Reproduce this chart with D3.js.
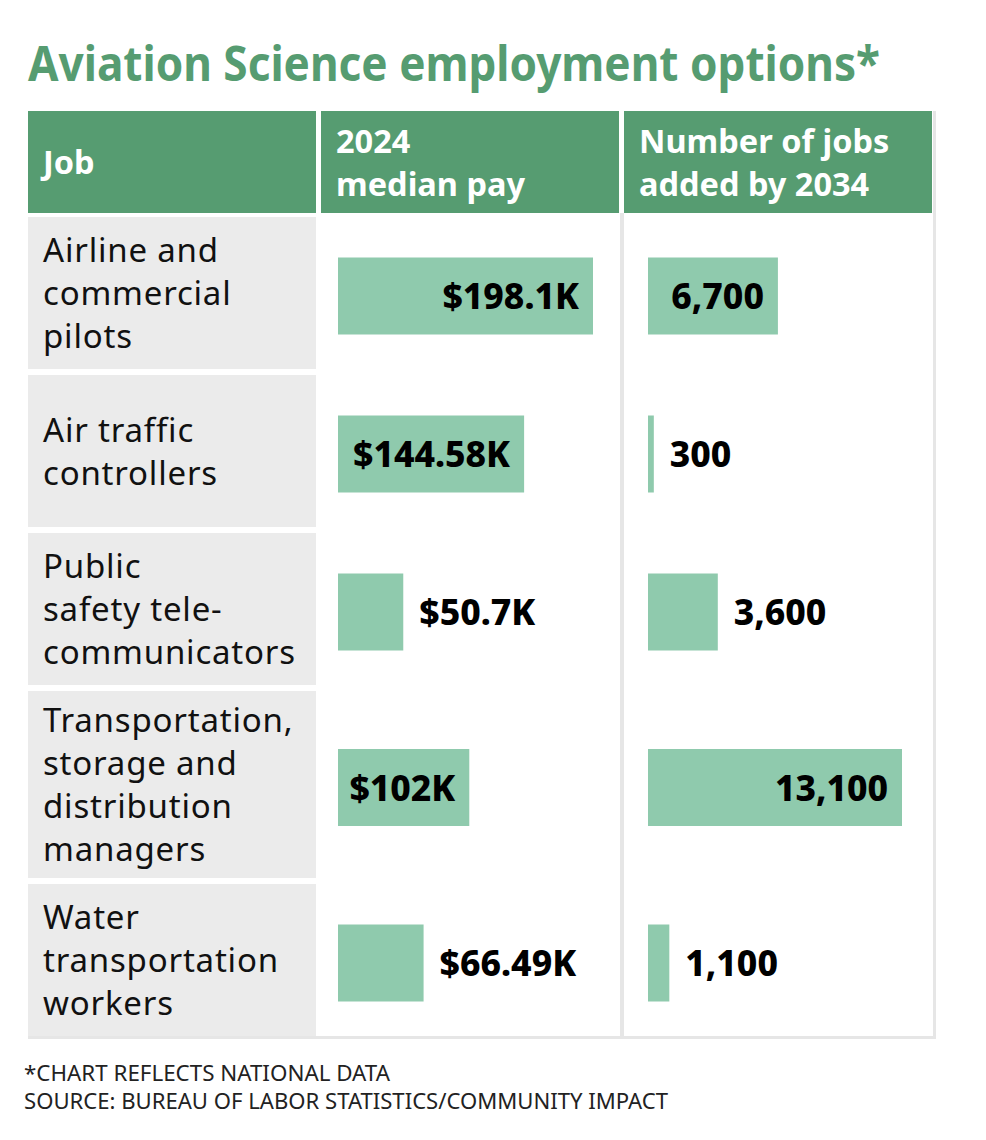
<!DOCTYPE html>
<html>
<head>
<meta charset="utf-8">
<script src="https://cdn.jsdelivr.net/npm/d3@7"></script>
<style>
  body { margin: 0; background: #fff; }
  text { font-family: "Noto Sans", "Open Sans", sans-serif; }
</style>
</head>
<body>
<div id="viz"></div>
<script>
// job names, already broken into lines as in the print graphic
var jobs = [
  ["Airline and", "commercial", "pilots"],
  ["Air traffic", "controllers"],
  ["Public", "safety tele-", "communicators"],
  ["Transportation,", "storage and", "distribution", "managers"],
  ["Water", "transportation", "workers"]
];
var medianPay = [198.1, 144.58, 50.7, 102, 66.49];   // thousands of dollars
var jobsAdded = [6700, 300, 3600, 13100, 1100];
var headers = [["Job"], ["2024", "median pay"], ["Number of jobs", "added by 2034"]];
var title = "Aviation Science employment options*";
var notes = ["*CHART REFLECTS NATIONAL DATA", "SOURCE: BUREAU OF LABOR STATISTICS/COMMUNITY IMPACT"];

var W = 986, H = 1140;
var green = "#569c71", barColor = "#8fcaad", cellGrey = "#ebebeb", lineGrey = "#e6e6e6";

var svg = d3.select("#viz").append("svg")
  .attr("width", W)
  .attr("height", H);

// title
svg.append("text")
  .attr("x", 28)
  .attr("y", 81)
  .attr("fill", green)
  .attr("font-size", 48)
  .attr("font-weight", 700)
  .attr("textLength", 852)
  .attr("lengthAdjust", "spacingAndGlyphs")
  .text(title);

// columns: [left, right] of the header cells and body cells
var cols = [
  {hx0: 28, hx1: 316, bx0: 28, bx1: 316},
  {hx0: 321, hx1: 619, bx0: 316, bx1: 620, barX: 338},
  {hx0: 624, hx1: 932, bx0: 624, bx1: 933, barX: 648}
];
var headTop = 111, headBottom = 213;

// header cells
svg.selectAll("rect.head")
  .data(headers)
  .join("rect")
  .attr("class", "head")
  .attr("x", function (d, i) { return cols[i].hx0; })
  .attr("y", headTop)
  .attr("width", function (d, i) { return cols[i].hx1 - cols[i].hx0; })
  .attr("height", headBottom - headTop)
  .attr("fill", green);

svg.selectAll("text.head")
  .data(headers)
  .join("text")
  .attr("class", "head")
  .attr("fill", "#fff")
  .attr("font-size", 32.5)
  .attr("font-weight", 700)
  .each(function (d, i) {
    var t = d3.select(this);
    var mid = (headTop + headBottom) / 2 + 12;
    d.forEach(function (line, k) {
      t.append("tspan")
        .attr("x", cols[i].hx0 + 15)
        .attr("y", mid + (k - (d.length - 1) / 2) * 43)
        .text(line);
    });
  });

// rows: height grows for the four-line label
var rowGap = 6;
var rowH = jobs.map(function (d) { return d.length > 3 ? 187 : 152; });
var rowTop = [];
var acc = headBottom + 4;
rowH.forEach(function (h) { rowTop.push(acc); acc += h + rowGap; });
var tableBottom = rowTop[rowTop.length - 1] + rowH[rowH.length - 1];

// grey job cells
svg.selectAll("rect.jobcell")
  .data(jobs)
  .join("rect")
  .attr("class", "jobcell")
  .attr("x", cols[0].bx0)
  .attr("y", function (d, i) { return rowTop[i]; })
  .attr("width", cols[0].bx1 - cols[0].bx0)
  .attr("height", function (d, i) { return rowH[i]; })
  .attr("fill", cellGrey);

// rules of the table
svg.append("rect").attr("x", 620).attr("y", headBottom).attr("width", 4)
  .attr("height", tableBottom - headBottom).attr("fill", lineGrey);
svg.append("rect").attr("x", 933).attr("y", headTop).attr("width", 3)
  .attr("height", tableBottom - headTop + 3).attr("fill", lineGrey);
svg.append("rect").attr("x", 28).attr("y", tableBottom).attr("width", 908)
  .attr("height", 3).attr("fill", lineGrey);

// job labels
svg.selectAll("text.job")
  .data(jobs)
  .join("text")
  .attr("class", "job")
  .attr("fill", "#111")
  .attr("font-size", 33)
  .attr("letter-spacing", 0.8)
  .each(function (d, i) {
    var t = d3.select(this);
    var mid = rowTop[i] + rowH[i] / 2 + 12;
    d.forEach(function (line, k) {
      t.append("tspan")
        .attr("x", 43)
        .attr("y", mid + (k - (d.length - 1) / 2) * 43)
        .text(line);
    });
  });

// bars
var barH = 77;
var payX = d3.scaleLinear().domain([0, d3.max(medianPay)]).range([0, 255]);
var jobsX = d3.scaleLinear().domain([0, d3.max(jobsAdded)]).range([0, 254]);
var fmtJobs = d3.format(",");

function drawBars(values, scale, col, fmt, cls) {
  var g = svg.append("g").attr("class", cls);
  var cy = function (i) { return rowTop[i] + rowH[i] / 2 + 3; };

  g.selectAll("rect")
    .data(values)
    .join("rect")
    .attr("x", col.barX)
    .attr("y", function (d, i) { return cy(i) - barH / 2; })
    .attr("width", function (d) { return scale(d); })
    .attr("height", barH)
    .attr("fill", barColor);

  g.selectAll("text")
    .data(values)
    .join("text")
    .attr("y", function (d, i) { return cy(i) + 13; })
    .attr("font-size", 35.5)
    .attr("font-weight", 800)
    .attr("fill", "#000")
    .text(fmt)
    .each(function (d) {
      var t = d3.select(this);
      var w = this.getComputedTextLength();
      var bw = scale(d);
      if (w + 24 < bw) {
        t.attr("x", col.barX + bw - 14).attr("text-anchor", "end");
      } else {
        t.attr("x", col.barX + bw + 16).attr("text-anchor", "start");
      }
    });
}

drawBars(medianPay, payX, cols[1], function (d) { return "$" + d + "K"; }, "pay");
drawBars(jobsAdded, jobsX, cols[2], fmtJobs, "added");

// footnotes
var noteWidth = [366, 644];
svg.selectAll("text.note")
  .data(notes)
  .join("text")
  .attr("class", "note")
  .attr("x", 24)
  .attr("y", function (d, i) { return 1081 + i * 28; })
  .attr("font-size", 21)
  .attr("fill", "#222")
  .attr("textLength", function (d, i) { return noteWidth[i]; })
  .attr("lengthAdjust", "spacingAndGlyphs")
  .text(function (d) { return d; });
</script>
</body>
</html>
